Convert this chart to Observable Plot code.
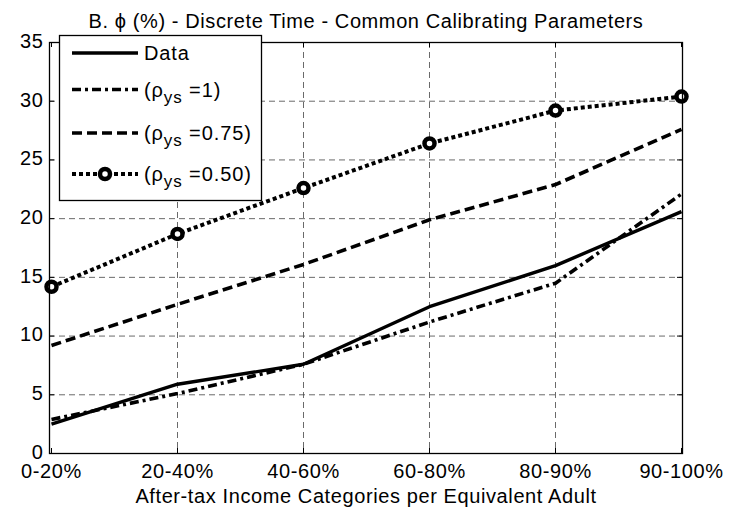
<!DOCTYPE html>
<html>
<head>
<meta charset="utf-8">
<script src="https://cdn.jsdelivr.net/npm/d3@7"></script>
<script src="https://cdn.jsdelivr.net/npm/@observablehq/plot@0.6"></script>
<style>
  html, body { margin: 0; padding: 0; background: #fff; }
  #chart svg { display: block; }
</style>
</head>
<body>
<div id="chart"></div>
<script>
const categories = ["0-20%", "20-40%", "40-60%", "60-80%", "80-90%", "90-100%"];
const dataSeries = [2.5, 5.9, 7.6, 12.5, 16.0, 20.6];
const rho100 = [2.9, 5.1, 7.6, 11.2, 14.5, 22.1];
const rho075 = [9.2, 12.7, 16.1, 19.9, 22.9, 27.6];
const rho050 = [14.2, 18.7, 22.6, 26.4, 29.2, 30.4];
const yTicks = [0, 5, 10, 15, 20, 25, 30, 35];
const seriesLabels = ["Data", "=1)", "=0.75)", "=0.50)"];
const titleText = "B. \u03D5 (%) - Discrete Time - Common Calibrating Parameters";
const xLabel = "After-tax Income Categories per Equivalent Adult";

const styles = [
  {dash: null, width: 3.4},
  {dash: "9,4,3,4", width: 3.6},
  {dash: "10,5", width: 3.6},
  {dash: "4,3", width: 4}
];
const allSeries = [dataSeries, rho100, rho075, rho050];
const rows = allSeries.map(vals => categories.map((c, i) => ({cat: c, v: vals[i]})));

const font = "'Liberation Sans', Arial, Helvetica, sans-serif";
const W = 737, H = 514, mL = 49, mR = 55, mT = 42, mB = 61;
const pw = W - mL - mR, ph = H - mT - mB, tk = 5;

const plot = Plot.plot({
  width: W,
  height: H,
  marginLeft: mL,
  marginRight: mR,
  marginTop: mT,
  marginBottom: mB,
  style: {fontFamily: font, fontSize: "20px", color: "black", background: "white", letterSpacing: "0.6px"},
  x: {type: "point", domain: categories, padding: 0},
  y: {domain: [0, 35]},
  marks: [
    Plot.ruleY(yTicks.slice(1, -1), {stroke: "#444", strokeWidth: 0.8, strokeDasharray: "6,4"}),
    Plot.ruleX(categories.slice(1, -1), {stroke: "#444", strokeWidth: 0.8, strokeDasharray: "6,4"}),
    // inward tick marks on all four sides
    Plot.ruleY(yTicks, {stroke: "black", strokeWidth: 1, insetRight: pw - tk}),
    Plot.ruleY(yTicks, {stroke: "black", strokeWidth: 1, insetLeft: pw - tk}),
    Plot.ruleX(categories, {stroke: "black", strokeWidth: 1, insetTop: ph - tk}),
    Plot.ruleX(categories, {stroke: "black", strokeWidth: 1, insetBottom: ph - tk}),
    Plot.axisY({ticks: yTicks, tickSize: 0, tickPadding: 6, dy: -1, label: null, fontSize: 20}),
    Plot.axisX({tickSize: 0, tickPadding: 10, label: null, fontSize: 20}),
    Plot.text([xLabel], {frameAnchor: "bottom", dy: 49, fontSize: 20}),
    Plot.text([titleText], {frameAnchor: "top", dy: -28.5, fontSize: 20}),
    ...rows.map((r, k) => Plot.line(r, {
      x: "cat", y: "v", stroke: "black",
      strokeWidth: styles[k].width,
      strokeDasharray: styles[k].dash,
      strokeLinecap: "butt", strokeLinejoin: "round"
    })),
    Plot.dot(rows[3], {x: "cat", y: "v", r: 5, stroke: "black", strokeWidth: 4.5, fill: "white"}),
    Plot.frame({stroke: "black", strokeWidth: 1.3})
  ]
});

document.getElementById("chart").appendChild(plot);

// Legend
const svg = d3.select(plot);
const lg = svg.append("g").attr("font-family", font).attr("text-anchor", "start")
  .style("letter-spacing", "0.9px");
lg.append("rect").attr("x", 59.5).attr("y", 35.5).attr("width", 202).attr("height", 165)
  .attr("fill", "white").attr("stroke", "black").attr("stroke-width", 1.3);
const rowY = [53, 89.5, 133, 174];
rowY.forEach((yy, k) => {
  const ln = lg.append("line").attr("x1", 72).attr("x2", 138).attr("y1", yy).attr("y2", yy)
    .attr("stroke", "black").attr("stroke-width", styles[k].width).attr("stroke-linecap", "butt");
  if (styles[k].dash) ln.attr("stroke-dasharray", styles[k].dash);
  if (k === 3) {
    lg.append("circle").attr("cx", 105).attr("cy", yy).attr("r", 5)
      .attr("fill", "white").attr("stroke", "black").attr("stroke-width", 4.5);
  }
  const t = lg.append("text").attr("x", 144).attr("y", yy + 7).attr("font-size", 20).attr("fill", "black");
  if (k === 0) {
    t.text(seriesLabels[0]);
  } else {
    t.append("tspan").text("(\u03C1");
    t.append("tspan").attr("dy", 6).attr("font-size", 17).text("ys");
    t.append("tspan").attr("dy", -6).text(" " + seriesLabels[k]);
  }
});
</script>
</body>
</html>
